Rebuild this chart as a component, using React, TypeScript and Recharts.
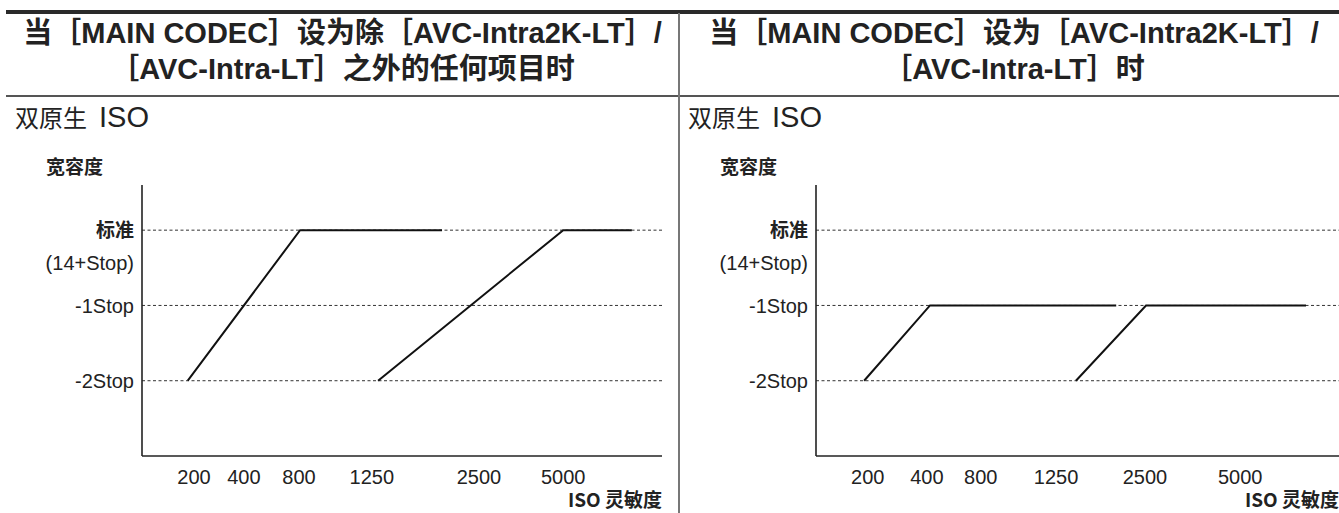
import { LineChart, Line, XAxis, YAxis, ReferenceLine, Label } from "recharts";

// x positions are in schematic units (0-100 across the axis)
const isoLabels = ["200", "400", "800", "1250", "2500", "5000"];
const leftTickPos = [10.0, 19.6, 30.2, 44.2, 64.8, 81.0];
const rightTickPos = [9.9, 21.2, 31.5, 45.9, 62.9, 81.1];

const stopTicks = [0, -0.43, -1, -2];
const stopLabels = ["标准", "(14+Stop)", "-1Stop", "-2Stop"];
const gridStops = [0, -1, -2];

const leftLowX = [8.8, 30.4, 57.7];
const leftLowY = [-2, 0, 0];
const leftHighX = [45.4, 81.0, 94.2];
const leftHighY = [-2, 0, 0];

const rightLowX = [9.2, 21.8, 57.4];
const rightLowY = [-2, -1, -1];
const rightHighX = [49.7, 63.1, 93.7];
const rightHighY = [-2, -1, -1];

const zip = (xs: number[], ys: number[]) => xs.map((x, i) => ({ x, y: ys[i] }));

const LATIN = '"Liberation Sans", Arial, "Noto Sans CJK SC", sans-serif';
const CJK = '"Noto Sans CJK SC", sans-serif';
const INK = "#222";

const StopTick = (props: any) => {
  const { x, y, payload } = props;
  const i = stopTicks.indexOf(payload.value);
  const bold = i === 0;
  return (
    <text
      x={x}
      y={y}
      dy="0.36em"
      textAnchor="end"
      fontSize={bold ? 19 : 20}
      fontWeight={bold ? 700 : 400}
      fontFamily={bold ? CJK : LATIN}
      fill={INK}
    >
      {stopLabels[i]}
    </text>
  );
};

const IsoTick = (props: any) => {
  const { x, y, payload, index } = props;
  return (
    <text x={x} y={y + 20} textAnchor="middle" fontSize={20} fontFamily={LATIN} fill={INK}>
      {isoLabels[index] ?? payload.value}
    </text>
  );
};

const IsoAxisLabel = (props: any) => {
  const { x, y, width } = props.viewBox;
  return (
    <text x={x + width} y={y + 50.5} textAnchor="end" fontSize={19} fontWeight={700} fontFamily={CJK} fill={INK}>
      ISO 灵敏度
    </text>
  );
};

const LatitudeLabel = (props: any) => {
  const { x, y, width } = props.viewBox;
  return (
    <text x={x + width - 96} y={y - 11} fontSize={19} fontWeight={700} fontFamily={CJK} fill={INK}>
      宽容度
    </text>
  );
};

function DualIsoChart({
  width,
  yAxisWidth,
  rightMargin,
  ticks,
  low,
  high,
}: {
  width: number;
  yAxisWidth: number;
  rightMargin: number;
  ticks: number[];
  low: { x: number; y: number }[];
  high: { x: number; y: number }[];
}) {
  return (
    <LineChart width={width} height={373} margin={{ top: 45, right: rightMargin, bottom: 0, left: 0 }}>
      <XAxis
        type="number"
        dataKey="x"
        domain={[0, 100]}
        ticks={ticks}
        interval={0}
        height={57}
        tickLine={false}
        axisLine={{ stroke: INK, strokeWidth: 1.6 }}
        tick={<IsoTick />}
      >
        <Label content={<IsoAxisLabel />} />
      </XAxis>
      <YAxis
        type="number"
        dataKey="y"
        domain={[-3, 0.6]}
        ticks={stopTicks}
        interval={0}
        width={yAxisWidth}
        tickLine={false}
        axisLine={{ stroke: INK, strokeWidth: 1.6 }}
        tick={<StopTick />}
      >
        <Label content={<LatitudeLabel />} />
      </YAxis>
      {gridStops.map((s) => (
        <ReferenceLine key={s} y={s} stroke="#333" strokeWidth={1} strokeDasharray="3 2.5" />
      ))}
      <Line data={low} dataKey="y" type="linear" stroke="#111" strokeWidth={2} dot={false} isAnimationActive={false} />
      <Line data={high} dataKey="y" type="linear" stroke="#111" strokeWidth={2} dot={false} isAnimationActive={false} />
    </LineChart>
  );
}

const titleStyle: React.CSSProperties = {
  position: "absolute",
  top: 15,
  textAlign: "center",
  fontFamily: LATIN,
  fontWeight: 700,
  fontSize: 29,
  lineHeight: "36px",
  color: INK,
  whiteSpace: "nowrap",
};

const subStyle: React.CSSProperties = {
  position: "absolute",
  top: 102,
  fontFamily: CJK,
  fontSize: 24,
  lineHeight: "30px",
  color: INK,
  whiteSpace: "nowrap",
};

const isoWord: React.CSSProperties = {
  fontFamily: LATIN,
  fontSize: 29,
  marginLeft: 12,
};

export default function App() {
  return (
    <div
      style={{
        position: "absolute",
        left: 0,
        top: 0,
        width: 1339,
        height: 513,
        background: "#fff",
        overflow: "hidden",
      }}
    >
      {/* rules */}
      <div style={{ position: "absolute", left: 6, top: 10, width: 1333, height: 4, background: "#2a2a2a" }} />
      <div style={{ position: "absolute", left: 6, top: 95, width: 1333, height: 1.5, background: "#555" }} />
      <div style={{ position: "absolute", left: 678, top: 13, width: 2, height: 500, background: "#777" }} />

      {/* headings */}
      <div style={{ ...titleStyle, left: 6, width: 673 }}>
        当［MAIN CODEC］设为除［AVC-Intra2K-LT］/
        <br />
        ［AVC-Intra-LT］之外的任何项目时
      </div>
      <div style={{ ...titleStyle, left: 684, width: 660 }}>
        当［MAIN CODEC］设为［AVC-Intra2K-LT］/
        <br />
        ［AVC-Intra-LT］时
      </div>

      <div style={{ ...subStyle, left: 15 }}>
        双原生<span style={isoWord}>ISO</span>
      </div>
      <div style={{ ...subStyle, left: 688 }}>
        双原生<span style={isoWord}>ISO</span>
      </div>

      {/* charts */}
      <div style={{ position: "absolute", left: 0, top: 140 }}>
        <DualIsoChart
          width={679}
          yAxisWidth={142}
          rightMargin={17}
          ticks={leftTickPos}
          low={zip(leftLowX, leftLowY)}
          high={zip(leftHighX, leftHighY)}
        />
      </div>
      <div style={{ position: "absolute", left: 679, top: 140 }}>
        <DualIsoChart
          width={660}
          yAxisWidth={137}
          rightMargin={0}
          ticks={rightTickPos}
          low={zip(rightLowX, rightLowY)}
          high={zip(rightHighX, rightHighY)}
        />
      </div>
    </div>
  );
}
